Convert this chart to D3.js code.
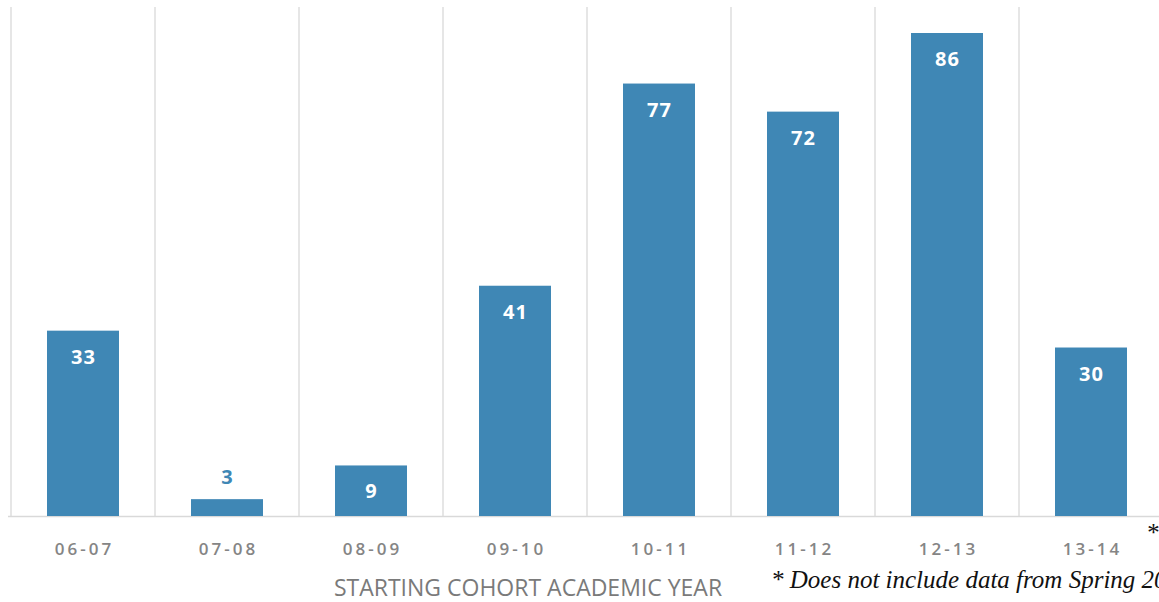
<!DOCTYPE html>
<html>
<head>
<meta charset="utf-8">
<script src="https://cdn.jsdelivr.net/npm/d3@7"></script>
<style>
  body { margin: 0; background: #fff; overflow: hidden; }
  .tick-label { font-family: 'Open Sans', sans-serif; font-size: 17px; font-weight: 600; fill: #858585; letter-spacing: 3px; }
  .value { font-family: 'Open Sans', sans-serif; font-size: 20px; font-weight: bold; letter-spacing: 1px; }
  .title { font-family: 'Open Sans', sans-serif; font-size: 23px; fill: #7a7a7a; }
  .note { font-family: 'Liberation Serif', serif; font-style: italic; font-size: 25px; fill: #111; }
</style>
</head>
<body>
<svg></svg>
<script>
const years = ['06-07', '07-08', '08-09', '09-10', '10-11', '11-12', '12-13', '13-14'];
const counts = [33, 3, 9, 41, 77, 72, 86, 30];

const svgWidth = 1159;
const svgHeight = 602;
const baseline = 516;

const svg = d3.select('svg')
    .attr('width', svgWidth)
    .attr('height', svgHeight);

const xScale = d3.scaleBand()
    .domain(years)
    .range([11, 1163])
    .paddingInner(0.5)
    .paddingOuter(0.25);

const yScale = d3.scaleLinear()
    .domain([0, 86])
    .range([baseline, 33]);

// vertical separators between categories
const step = xScale.step();
svg.append('g')
    .selectAll('line')
    .data(years)
    .enter()
    .append('line')
    .attr('x1', (d) => xScale(d) - step * 0.25)
    .attr('x2', (d) => xScale(d) - step * 0.25)
    .attr('y1', 7)
    .attr('y2', baseline)
    .attr('stroke', '#e6e6e6')
    .attr('stroke-width', 2);

// baseline
svg.append('line')
    .attr('x1', 8)
    .attr('x2', svgWidth)
    .attr('y1', baseline + 0.5)
    .attr('y2', baseline + 0.5)
    .attr('stroke', '#d9d9d9')
    .attr('stroke-width', 1.5);

const bars = svg.append('g')
    .selectAll('g')
    .data(years.map((y, i) => ({ year: y, count: counts[i] })))
    .enter()
    .append('g');

bars.append('rect')
    .attr('x', (d) => xScale(d.year))
    .attr('y', (d) => yScale(d.count))
    .attr('width', xScale.bandwidth())
    .attr('height', (d) => baseline - yScale(d.count))
    .attr('fill', '#3f87b5');

bars.append('text')
    .attr('class', 'value')
    .attr('x', (d) => xScale(d.year) + xScale.bandwidth() / 2 + 0.5)
    .attr('y', (d) => d.count < 5 ? yScale(d.count) - 15 : yScale(d.count) + 33)
    .attr('text-anchor', 'middle')
    .attr('fill', (d) => d.count < 5 ? '#3f87b5' : '#fff')
    .text((d) => d.count);

// category labels
svg.append('g')
    .selectAll('text')
    .data(years)
    .enter()
    .append('text')
    .attr('class', 'tick-label')
    .attr('x', (d) => xScale(d) + xScale.bandwidth() / 2 + 1.5)
    .attr('y', 555)
    .attr('text-anchor', 'middle')
    .text((d) => d);

svg.append('text')
    .attr('class', 'title')
    .attr('x', 528)
    .attr('y', 596)
    .attr('text-anchor', 'middle')
    .text('STARTING COHORT ACADEMIC YEAR');

svg.append('text')
    .attr('class', 'note')
    .attr('x', 1146)
    .attr('y', 541)
    .text('*');

svg.append('text')
    .attr('class', 'note')
    .attr('x', 771)
    .attr('y', 588)
    .text('* Does not include data from Spring 2014');
</script>
</body>
</html>
